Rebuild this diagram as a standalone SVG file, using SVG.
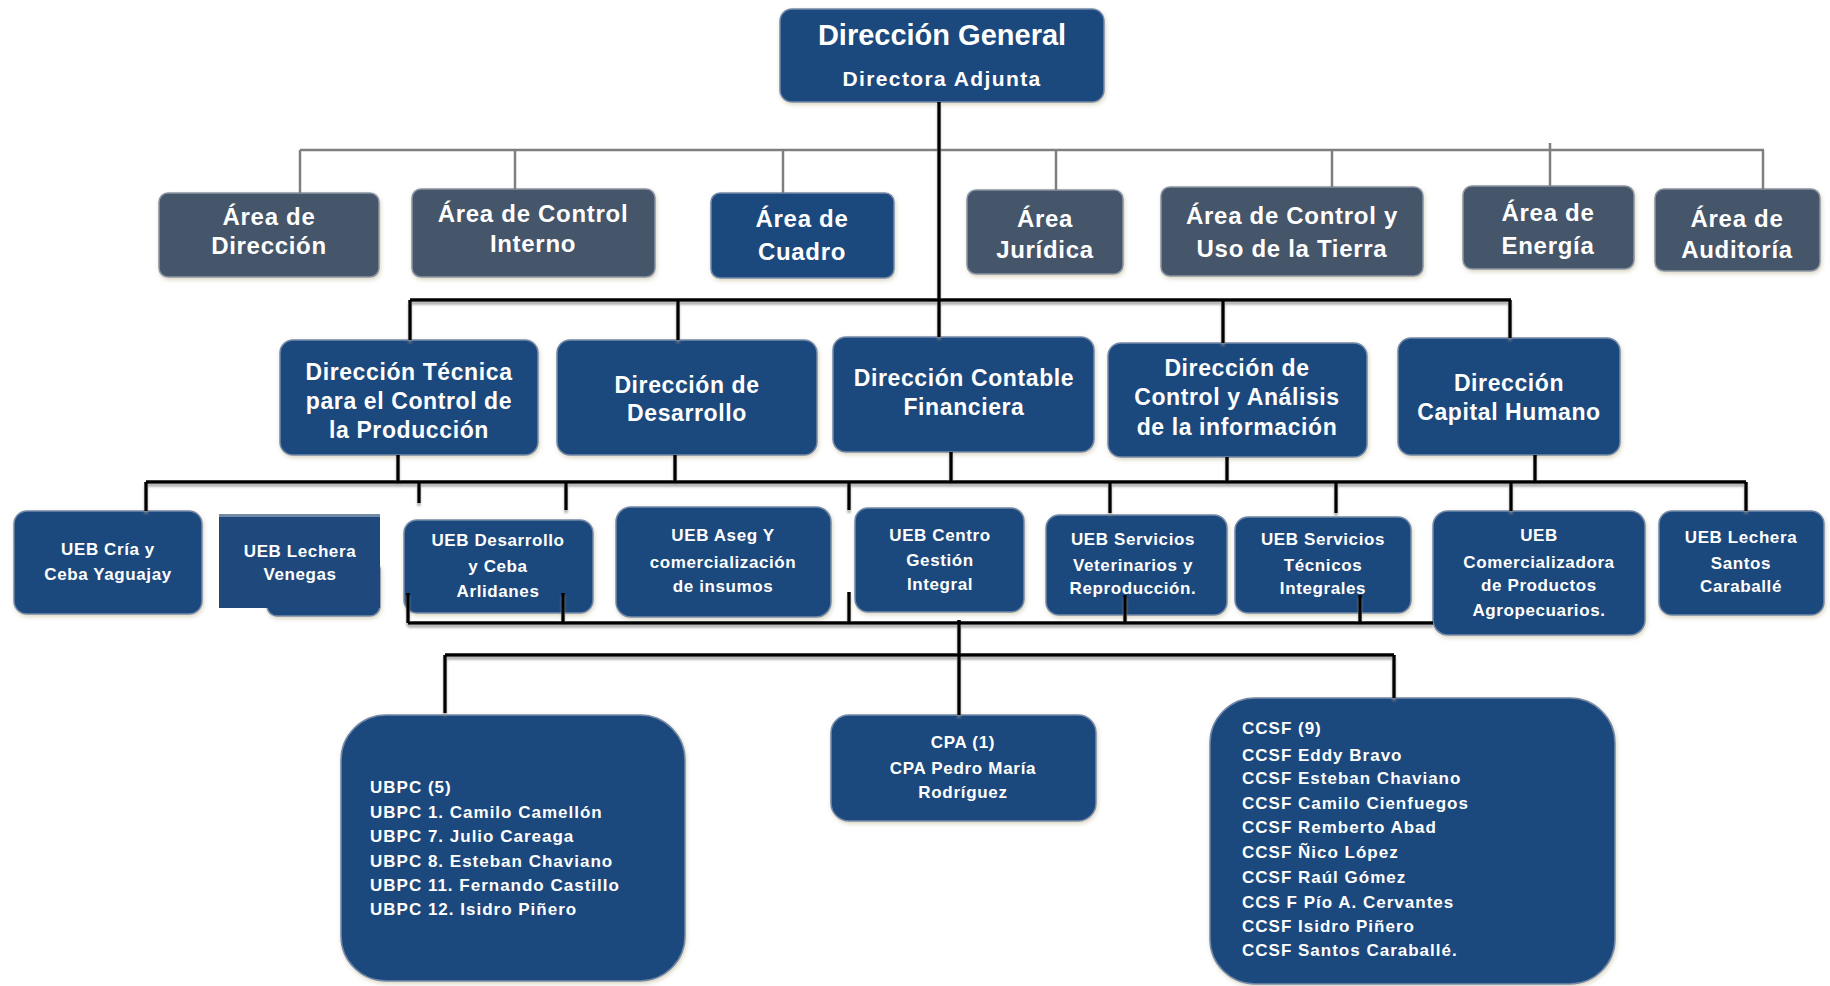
<svg xmlns="http://www.w3.org/2000/svg" width="1830" height="986" viewBox="0 0 1830 986">
<style>
.bl{fill:#1f497d;stroke:#7389a8;stroke-width:1.5;filter:url(#sh)}
.sl{fill:#44546a;stroke:#8a94a3;stroke-width:1.5;filter:url(#sh)}
text{font-family:"Liberation Sans",Arial,sans-serif;font-weight:bold;fill:#ffffff}
.t1{font-size:29px;text-anchor:middle}
.t2{font-size:21px;text-anchor:middle;letter-spacing:1.4px}
.ta{font-size:24px;text-anchor:middle;letter-spacing:0.7px}
.td{font-size:23px;text-anchor:middle;letter-spacing:0.6px}
.tu{font-size:17px;text-anchor:middle;letter-spacing:0.6px}
.tl{font-size:17px;letter-spacing:1px}
.tc{font-size:17px;text-anchor:middle;letter-spacing:0.7px}
.g{stroke:#7f7f7f;stroke-width:2.5;fill:none}
.k{stroke:#000;stroke-width:3.5;fill:none}
</style>
<defs>
<filter id="sh" x="-10%" y="-10%" width="120%" height="130%">
<feDropShadow dx="1" dy="2" stdDeviation="2" flood-color="#c9c3a8" flood-opacity="0.7"/>
</filter>
<filter id="lsh" x="-5%" y="-20%" width="110%" height="140%">
<feDropShadow dx="0" dy="3" stdDeviation="1.2" flood-color="#8c8c8c" flood-opacity="0.7"/>
</filter>
</defs>
<rect width="1830" height="986" fill="#ffffff"/>

<g id="n-top"><rect class="bl" x="780" y="9" width="324" height="93" rx="12"/>
<text class="t1" x="942" y="45">Dirección General</text>
<text class="t2" x="942" y="86">Directora Adjunta</text></g>

<g id="a1"><rect class="sl" x="159" y="193" width="220" height="84" rx="9"/>
<text class="ta" x="269" y="225">Área de</text><text class="ta" x="269" y="254">Dirección</text></g>
<g id="a2"><rect class="sl" x="412" y="189" width="243" height="88" rx="9"/>
<text class="ta" x="533" y="222">Área de Control</text><text class="ta" x="533" y="252">Interno</text></g>
<g id="a3"><rect class="bl" x="711" y="193" width="183" height="85" rx="9"/>
<text class="ta" x="802" y="227">Área de</text><text class="ta" x="802" y="260">Cuadro</text></g>
<g id="a4"><rect class="sl" x="967" y="190" width="156" height="84" rx="9"/>
<text class="ta" x="1045" y="227">Área</text><text class="ta" x="1045" y="258">Jurídica</text></g>
<g id="a5"><rect class="sl" x="1161" y="187" width="262" height="89" rx="9"/>
<text class="ta" x="1292" y="224">Área de Control y</text><text class="ta" x="1292" y="257">Uso de la Tierra</text></g>
<g id="a6"><rect class="sl" x="1463" y="186" width="171" height="83" rx="9"/>
<text class="ta" x="1548" y="221">Área de</text><text class="ta" x="1548" y="254">Energía</text></g>
<g id="a7"><rect class="sl" x="1655" y="189" width="165" height="82" rx="9"/>
<text class="ta" x="1737" y="227">Área de</text><text class="ta" x="1737" y="258">Auditoría</text></g>

<g id="d1"><rect class="bl" x="280" y="340" width="258" height="115" rx="13"/>
<text class="td" x="409" y="380">Dirección Técnica</text><text class="td" x="409" y="409">para el Control de</text><text class="td" x="409" y="438">la Producción</text></g>
<g id="d2"><rect class="bl" x="557" y="340" width="260" height="115" rx="13"/>
<text class="td" x="687" y="393">Dirección de</text><text class="td" x="687" y="421">Desarrollo</text></g>
<g id="d3"><rect class="bl" x="833" y="337" width="261" height="115" rx="13"/>
<text class="td" x="964" y="386">Dirección Contable</text><text class="td" x="964" y="415">Financiera</text></g>
<g id="d4"><rect class="bl" x="1108" y="343" width="259" height="114" rx="13"/>
<text class="td" x="1237" y="376">Dirección de</text><text class="td" x="1237" y="405">Control y Análisis</text><text class="td" x="1237" y="435">de la información</text></g>
<g id="d5"><rect class="bl" x="1398" y="338" width="222" height="117" rx="13"/>
<text class="td" x="1509" y="391">Dirección</text><text class="td" x="1509" y="420">Capital Humano</text></g>

<g id="u1"><rect class="bl" x="14" y="511" width="188" height="103" rx="13"/>
<text class="tu" x="108" y="555">UEB Cría y</text><text class="tu" x="108" y="580">Ceba Yaguajay</text></g>
<g id="u2"><rect class="bl" x="267" y="560" width="113" height="56" rx="10"/><rect x="219" y="514" width="161" height="94" fill="#1f497d"/><rect x="219" y="514" width="161" height="3" fill="#7389a8"/>
<text class="tu" x="300" y="557">UEB Lechera</text><text class="tu" x="300" y="580">Venegas</text></g>
<g id="u3"><rect class="bl" x="404" y="520" width="189" height="93" rx="13"/>
<text class="tu" x="498" y="546">UEB Desarrollo</text><text class="tu" x="498" y="572">y Ceba</text><text class="tu" x="498" y="597">Arlidanes</text></g>
<g id="u4"><rect class="bl" x="616" y="507" width="215" height="110" rx="15"/>
<text class="tu" x="723" y="541">UEB Aseg Y</text><text class="tu" x="723" y="568">comercialización</text><text class="tu" x="723" y="592">de insumos</text></g>
<g id="u5"><rect class="bl" x="855" y="508" width="169" height="104" rx="13"/>
<text class="tu" x="940" y="541">UEB Centro</text><text class="tu" x="940" y="566">Gestión</text><text class="tu" x="940" y="590">Integral</text></g>
<g id="u6"><rect class="bl" x="1046" y="515" width="181" height="100" rx="13"/>
<text class="tu" x="1133" y="545">UEB Servicios</text><text class="tu" x="1133" y="571">Veterinarios y</text><text class="tu" x="1133" y="594">Reproducción.</text></g>
<g id="u7"><rect class="bl" x="1235" y="517" width="176" height="96" rx="13"/>
<text class="tu" x="1323" y="545">UEB Servicios</text><text class="tu" x="1323" y="571">Técnicos</text><text class="tu" x="1323" y="594">Integrales</text></g>
<g id="u8"><rect class="bl" x="1433" y="511" width="212" height="124" rx="15"/>
<text class="tu" x="1539" y="541">UEB</text><text class="tu" x="1539" y="568">Comercializadora</text><text class="tu" x="1539" y="591">de Productos</text><text class="tu" x="1539" y="616">Agropecuarios.</text></g>
<g id="u9"><rect class="bl" x="1659" y="511" width="165" height="104" rx="13"/>
<text class="tu" x="1741" y="543">UEB Lechera</text><text class="tu" x="1741" y="569">Santos</text><text class="tu" x="1741" y="592">Caraballé</text></g>

<g id="b1"><rect class="bl" x="341" y="715" width="344" height="266" rx="45"/>
<text class="tl" x="370" y="793">UBPC (5)</text>
<text class="tl" x="370" y="818">UBPC 1. Camilo Camellón</text>
<text class="tl" x="370" y="842">UBPC 7. Julio Careaga</text>
<text class="tl" x="370" y="867">UBPC 8. Esteban Chaviano</text>
<text class="tl" x="370" y="891">UBPC 11. Fernando Castillo</text>
<text class="tl" x="370" y="915">UBPC 12. Isidro Piñero</text></g>
<g id="b2"><rect class="bl" x="831" y="715" width="265" height="106" rx="18"/>
<text class="tc" x="963" y="748">CPA (1)</text><text class="tc" x="963" y="774">CPA Pedro María</text><text class="tc" x="963" y="798">Rodríguez</text></g>
<g id="b3"><rect class="bl" x="1210" y="698" width="405" height="286" rx="45"/>
<text class="tl" x="1242" y="734">CCSF (9)</text>
<text class="tl" x="1242" y="761">CCSF Eddy Bravo</text>
<text class="tl" x="1242" y="784">CCSF Esteban Chaviano</text>
<text class="tl" x="1242" y="809">CCSF Camilo Cienfuegos</text>
<text class="tl" x="1242" y="833">CCSF Remberto Abad</text>
<text class="tl" x="1242" y="858">CCSF Ñico López</text>
<text class="tl" x="1242" y="883">CCSF Raúl Gómez</text>
<text class="tl" x="1242" y="908">CCS F Pío A. Cervantes</text>
<text class="tl" x="1242" y="932">CCSF Isidro Piñero</text>
<text class="tl" x="1242" y="956">CCSF Santos Caraballé.</text></g>

<g id="connectors">
<g class="g">
<path d="M300 150H1764M300 150V193M515 150V189M783 150V193M1056 150V190M1332 150V187M1550 143V186M1763 150V189"/>
</g>
<g class="k" filter="url(#lsh)">
<path d="M939 102V337"/>
<path d="M410 300H1511M410 300V340M678 300V340M1223 300V343M1510 300V338"/>
<path d="M146 482H1746M398 455V482M675 455V482M951 452V482M1227 457V482M1535 455V482"/>
<path d="M146 482V511M419 482V503M566 482V510M849 482V510M1110 482V513M1336 482V513M1511 482V511M1746 482V511"/>
<path d="M408 623H1433M408 593V623M563 593V623M849 592V623M1125 595V623M1360 595V623"/>
<path d="M959 620V715M445 655H1394M445 655V713M1394 655V698"/>
</g>
</g>
</svg>
